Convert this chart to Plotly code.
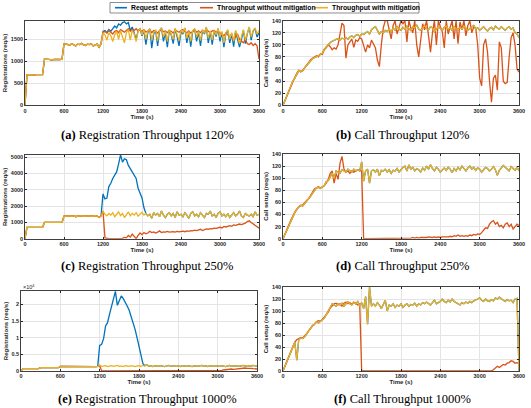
import plotly.graph_objects as go

W, H = 531, 408
T = list(range(0, 3601, 30))  # sample times (s)

BLUE, ORANGE, YELLOW = "#0072BD", "#D95319", "#EDB120"

# ---------------- (a) Registration Throughput 120% ----------------
reg120_pre = [  # 0..1170 s, all three series coincide
    0, 690, 695, 690, 700, 690, 695, 690, 700, 695,
    1050, 1040, 1045, 1040, 1030, 1045, 1040, 1035, 1040, 1050,
    1400, 1390, 1380, 1370, 1400, 1380, 1350, 1390, 1380, 1410,
    1370, 1360, 1390, 1380, 1400, 1350, 1370, 1390, 1320, 1400]
reg120_req_post = [  # 1200..3600 s
    1680, 1700, 1650, 1720, 1680, 1750, 1800, 1760, 1850, 1820,
    1880, 1900, 1850, 1880, 1700, 1780, 1650, 1500, 1700, 1740,
    1580, 1700, 1380, 1650, 1740, 1300, 1620, 1700, 1350, 1680,
    1760, 1450, 1650, 1320, 1700, 1600, 1400, 1740, 1560, 1350,
    1680, 1620, 1750, 1420, 1660, 1330, 1680, 1730, 1450, 1660,
    1350, 1700, 1620, 1770, 1420, 1680, 1380, 1690, 1560, 1740,
    1450, 1660, 1320, 1630, 1700, 1420, 1620, 1330, 1680, 1500,
    1320, 1500, 1700, 1400, 1630, 1770, 1480, 1690, 1750, 1550,
    1650]
reg120_without_post = [
    1650, 1680, 1640, 1700, 1660, 1620, 1680, 1700, 1650, 1720,
    1690, 1660, 1700, 1740, 1680, 1720, 1700, 1740, 1690, 1710,
    1680, 1720, 1660, 1690, 1720, 1650, 1700, 1680, 1640, 1700,
    1720, 1670, 1690, 1650, 1700, 1680, 1640, 1710, 1690, 1660,
    1700, 1720, 1680, 1650, 1690, 1640, 1680, 1710, 1660, 1690,
    1650, 1700, 1670, 1720, 1680, 1650, 1690, 1700, 1660, 1690,
    1640, 1620, 1580, 1640, 1600, 1550, 1620, 1480, 1560, 1620,
    1500, 1450, 1420, 1500, 1400, 1380, 1420, 1360, 1400, 1350,
    1050]
reg120_with_post = [
    1650, 1600, 1480, 1650, 1580, 1450, 1600, 1680, 1500, 1700,
    1550, 1420, 1650, 1720, 1480, 1700, 1620, 1450, 1680, 1750,
    1600, 1720, 1500, 1680, 1740, 1480, 1650, 1720, 1460, 1700,
    1760, 1550, 1680, 1450, 1720, 1620, 1500, 1750, 1600, 1470,
    1700, 1650, 1760, 1520, 1680, 1450, 1700, 1740, 1550, 1680,
    1470, 1720, 1640, 1780, 1520, 1690, 1480, 1700, 1600, 1750,
    1550, 1680, 1420, 1650, 1720, 1500, 1650, 1450, 1700, 1580,
    1400, 1550, 1720, 1480, 1650, 1780, 1550, 1700, 1760, 1620,
    1700]

# ---------------- (b) Call Throughput 120% ----------------
call120_with = [
    0, 8, 16, 25, 32, 40, 45, 52, 57, 56,
    58, 62, 66, 70, 74, 77, 79, 80, 82, 84,
    86, 93, 97, 100, 104, 106, 108, 109, 110, 108,
    111, 110, 112, 109, 113, 115, 112, 116, 117, 114,
    118, 117, 120, 122, 118, 125, 128, 130, 124, 118,
    122, 120, 124, 122, 126, 121, 128, 124, 130, 126,
    124, 129, 126, 131, 127, 124, 130, 128, 133, 126,
    124, 129, 132, 127, 125, 130, 128, 122, 126, 130,
    127, 124, 129, 131, 126, 128, 124, 130, 127, 125,
    129, 126, 131, 128, 124, 127, 130, 132, 126, 128,
    124, 127, 130, 126, 123, 127, 129, 125, 131, 128,
    126, 130, 127, 124, 128, 130, 126, 128, 120, 118,
    112]
call120_without = [
    0, 8, 16, 25, 33, 40, 46, 53, 58, 55,
    57, 62, 67, 72, 75, 78, 80, 82, 80, 85,
    84, 92, 95, 100, 97, 92, 95, 93, 100, 118,
    136, 132, 78, 100, 105, 110, 96, 108, 106, 112,
    110, 98, 88, 100, 95, 108, 102, 95, 75, 64,
    100, 128, 140, 140, 125, 110, 132, 140, 118, 130,
    140, 135, 140, 105, 140, 128, 120, 140, 100, 80,
    110, 135, 125, 140, 115, 88, 120, 140, 100, 140,
    130, 122, 95, 140, 118, 130, 140, 110, 140, 102,
    138, 125, 140, 115, 132, 140, 120, 130, 128, 100,
    45, 32, 100, 110, 88, 40, 5, 45, 50, 25,
    105, 95, 40, 36, 38, 80, 112, 120, 100, 60,
    55]
call120_req = call120_with

# ---------------- (c) Registration Throughput 250% ----------------
reg250_pre = [
    0, 700, 700, 690, 700, 700, 700, 690, 700, 700,
    1000, 1000, 1010, 1000, 1000, 990, 1000, 1010, 1000, 1000,
    1380, 1400, 1390, 1400, 1380, 1400, 1350, 1400, 1390, 1410,
    1380, 1400, 1390, 1400, 1380, 1400, 1410, 1390, 1300, 1400]
reg250_with_post = [
    1700, 1500, 1400, 1550, 1450, 1600, 1350, 1500, 1650, 1420,
    1550, 1300, 1500, 1650, 1400, 1550, 1450, 1600, 1380, 1500,
    1620, 1450, 1550, 1400, 1500, 1250, 1600, 1450, 1550, 1350,
    1700, 1450, 1300, 1500, 1600, 1400, 1550, 1300, 1650, 1450,
    1500, 1350, 1600, 1450, 1250, 1550, 1650, 1400, 1500, 1350,
    1600, 1450, 1300, 1550, 1500, 1700, 1400, 1500, 1300, 1550,
    1650, 1400, 1500, 1350, 1550, 1300, 1450, 1600, 1400, 1500,
    1700, 1400, 1300, 1550, 1450, 1400, 1500, 1350, 1650, 1450,
    1500]
reg250_without_post = [
    1700, 50, 0, 0, 0, 0, 0, 0, 0, 0,
    20, 80, 50, 200, 100, 280, 150, 0, 200, 350,
    250, 380, 300, 350, 450, 380, 420, 350, 400, 480,
    380, 420, 400, 450, 400, 420, 430, 400, 450, 420,
    440, 460, 430, 480, 450, 500, 480, 520, 500, 540,
    580, 500, 560, 600, 580, 620, 600, 650, 640, 680,
    700, 660, 750, 720, 780, 800, 760, 850, 820, 880,
    900, 870, 920, 950, 1050, 1100, 1000, 900, 800, 700,
    650]
reg250_req_peak = [  # 1200..1860 s, then request attempts follow throughput
    2750, 2450, 2500, 3200, 3400, 3700, 3900, 4100, 4600, 5150,
    4700, 4900, 4850, 4500, 4300, 4100, 3900, 3700, 3100, 2800,
    2500, 1900, 1550]

# ---------------- (d) Call Throughput 250% ----------------
call250_with = [
    0, 7, 15, 23, 30, 37, 43, 48, 53, 55,
    54, 58, 62, 65, 70, 75, 80, 84, 85, 83,
    86, 88, 94, 96, 102, 108, 100, 112, 110, 108,
    114, 112, 110, 115, 113, 110, 115, 112, 114, 112,
    127, 95, 112, 115, 92, 112, 114, 110, 115, 104,
    113, 112, 115, 110, 114, 108, 113, 112, 116, 110,
    114, 118, 120, 112, 122, 115, 118, 112, 116, 114,
    110, 117, 113, 120, 115, 122, 116, 112, 118, 115,
    110, 114, 117, 113, 118, 115, 109, 116, 112, 118,
    114, 120, 116, 112, 117, 120, 115, 118, 113, 117,
    115, 110, 114, 118, 116, 112, 115, 119, 114, 105,
    113, 117, 121, 118, 115, 112, 119, 116, 113, 118,
    112]
call250_without = [
    0, 7, 15, 23, 31, 38, 44, 49, 52, 55,
    56, 60, 63, 66, 72, 76, 82, 84, 86, 84,
    85, 88, 92, 98, 108, 112, 92, 108, 98, 125,
    136, 115, 110, 112, 108, 112, 110, 112, 114, 113,
    112, 0, 0, 0, 0, 0, 0, 0, 0, 0,
    0, 0, 0, 0, 0, 0, 0, 0, 0, 0,
    0, 1, 0, 1, 0, 1, 2, 1, 2, 1,
    2, 2, 1, 2, 3, 2, 2, 3, 2, 3,
    2, 3, 3, 2, 3, 4, 3, 5, 4, 6,
    4, 5, 4, 5, 4, 6, 5, 7, 6, 8,
    7, 10, 14, 18, 17, 24, 28, 30, 24, 27,
    20, 22, 18, 24, 26, 20, 24, 16, 20, 24,
    22]
call250_req = call250_with

# ---------------- (e) Registration Throughput 1000% (x 10^4) ----------------
reg1000_pre = [
    0, 0.07, 0.07, 0.068, 0.07, 0.072, 0.07, 0.069, 0.07, 0.071,
    0.10, 0.10, 0.101, 0.10, 0.099, 0.10, 0.10, 0.101, 0.10, 0.10,
    0.14, 0.139, 0.14, 0.141, 0.138, 0.14, 0.135, 0.14, 0.139, 0.141,
    0.138, 0.14, 0.139, 0.14, 0.138, 0.14, 0.141, 0.139, 0.13, 0.14]
reg1000_with_post = [
    0.17, 0.14, 0.15, 0.16, 0.13, 0.15, 0.16, 0.14, 0.15, 0.17,
    0.14, 0.15, 0.13, 0.16, 0.15, 0.14, 0.16, 0.15, 0.13, 0.15,
    0.16, 0.14, 0.17, 0.15, 0.19, 0.14, 0.15, 0.13, 0.16, 0.15,
    0.14, 0.16, 0.15, 0.13, 0.15, 0.17, 0.14, 0.15, 0.16, 0.14,
    0.15, 0.13, 0.16, 0.15, 0.14, 0.16, 0.15, 0.13, 0.15, 0.16,
    0.14, 0.15, 0.17, 0.14, 0.15, 0.13, 0.16, 0.15, 0.14, 0.16,
    0.15, 0.14, 0.16, 0.15, 0.13, 0.15, 0.17, 0.14, 0.16, 0.15,
    0.16, 0.14, 0.15, 0.17, 0.15, 0.14, 0.16, 0.15, 0.17, 0.16,
    0.15]
reg1000_without_post = [
    0.17, 0, 0, 0, 0, 0, 0, 0, 0, 0,
    0, 0, 0, 0, 0, 0, 0, 0, 0, 0,
    0, 0, 0, 0, 0, 0, 0, 0, 0, 0,
    0, 0, 0, 0, 0, 0, 0, 0, 0, 0,
    0, 0, 0, 0, 0, 0, 0, 0, 0, 0,
    0, 0, 0, 0, 0, 0, 0, 0, 0, 0,
    0.01, 0.02, 0.02, 0.03, 0.04, 0.04, 0.05, 0.06, 0.05, 0.06,
    0.07, 0.06, 0.08, 0.08, 0.09, 0.08, 0.09, 0.08, 0.07, 0.06,
    0.06]
reg1000_req_peak = [  # 1200..1890 s
    0.77, 0.80, 0.97, 1.35, 1.45, 1.70, 1.92, 2.12, 2.39, 1.97,
    2.12, 2.25, 2.17, 2.08, 1.95, 1.82, 1.65, 1.45, 1.25, 1.00,
    0.75, 0.50, 0.22, 0.16]

# ---------------- (f) Call Throughput 1000% ----------------
call1000_with = [
    0, 8, 16, 24, 32, 40, 48, 18, 52, 55,
    54, 57, 62, 66, 70, 76, 78, 82, 80, 83,
    85, 88, 94, 100, 106, 112, 110, 108, 112, 110,
    113, 108, 112, 115, 112, 110, 114, 112, 116, 108,
    114, 104, 124, 78, 140, 108, 112, 108, 114, 110,
    104, 112, 118, 100, 110, 108, 112, 106, 110, 108,
    112, 106, 110, 112, 108, 111, 110, 113, 108, 112,
    110, 114, 112, 115, 113, 110, 114, 118, 112, 114,
    116, 120, 116, 114, 118, 115, 120, 116, 114, 112,
    110, 114, 112, 115, 113, 116, 114, 117, 118, 120,
    122, 118, 116, 120, 117, 116, 119, 117, 122, 120,
    123, 120, 118, 116, 119, 117, 118, 114, 120, 121,
    0]
call1000_without = [
    0, 8, 16, 25, 33, 41, 48, 52, 54, 56,
    55, 58, 62, 67, 72, 75, 78, 82, 84, 83,
    86, 90, 95, 98, 105, 108, 112, 113, 110, 112,
    108, 113, 115, 112, 114, 111, 115, 113, 110, 112,
    0, 0, 0, 0, 0, 0, 0, 0, 0, 0,
    0, 0, 0, 0, 0, 0, 0, 0, 0, 0,
    0, 0, 0, 0, 0, 0, 0, 0, 0, 0,
    0, 0, 0, 0, 0, 0, 0, 0, 0, 0,
    0, 0, 0, 0, 0, 0, 0, 0, 0, 0,
    0, 0, 0, 0, 0, 0, 0, 0, 0, 0,
    0, 0, 0, 0, 0, 0, 0, 2, 5, 8,
    6, 9, 11, 10, 13, 14, 17, 16, 13, 14,
    12]
call1000_req = call1000_with

# ---------------- assemble series ----------------
reg120_req = reg120_pre + reg120_req_post
reg120_without = reg120_pre + reg120_without_post
reg120_with = reg120_pre + reg120_with_post
reg250_with = reg250_pre + reg250_with_post
reg250_without = reg250_pre + reg250_without_post
reg250_req = reg250_pre + reg250_req_peak + reg250_with_post[len(reg250_req_peak):]
reg1000_with = reg1000_pre + reg1000_with_post
reg1000_without = reg1000_pre + reg1000_without_post
reg1000_req = reg1000_pre + reg1000_req_peak + reg1000_with_post[len(reg1000_req_peak):]

X_TICKS = [0, 600, 1200, 1800, 2400, 3000, 3600]
CALL_TICKS = [0, 20, 40, 60, 80, 100, 120, 140]

panels = [
    # key, (left, right, top, bottom) px, y range, y ticks, y title, (req, without, with), caption
    ("a", (25, 259, 20.7, 105.3), [0, 1922], [0, 500, 1000, 1500], "Registrations (req/s)",
     (reg120_req, reg120_without, reg120_with), "Registration Throughput 120%"),
    ("b", (283, 519, 20.7, 105.3), [0, 140], CALL_TICKS, "Call setup (req/s)",
     (call120_req, call120_without, call120_with), "Call Throughput 120%"),
    ("c", (25, 259, 155, 238.7), [0, 5140], [0, 1000, 2000, 3000, 4000, 5000], "Registrations (req/s)",
     (reg250_req, reg250_without, reg250_with), "Registration Throughput 250%"),
    ("d", (283, 519, 154, 238.7), [0, 140], CALL_TICKS, "Call setup (req/s)",
     (call250_req, call250_without, call250_with), "Call Throughput 250%"),
    ("e", (21, 257, 291, 371), [0, 2.4], [0, 0.5, 1, 1.5, 2], "Registrations (req/s)",
     (reg1000_req, reg1000_without, reg1000_with), "Registration Throughput 1000%"),
    ("f", (283, 519, 287, 371), [0, 140], CALL_TICKS, "Call setup (req/s)",
     (call1000_req, call1000_without, call1000_with), "Call Throughput 1000%"),
]

names = ["Request attempts", "Throughput without mitigation", "Throughput with mitigation"]
colors = [BLUE, ORANGE, YELLOW]

fig = go.Figure()
TXT = "#262626"
tickfont = dict(family="Liberation Sans", size=5.5, color=TXT, weight="bold")
titlefont = dict(family="Liberation Sans", size=6, color=TXT, weight="bold")
axis_common = dict(ticks="inside", ticklen=2, tickwidth=0.5, tickcolor=TXT,
                   showgrid=True, gridcolor="#e4e4e4", gridwidth=0.6,
                   showline=True, linecolor="#404040", linewidth=0.6, mirror="ticks",
                   zeroline=False, automargin=False, tickfont=tickfont)
layout = {}
annotations = []
for i, (key, (l, r, t, b), yr, yt, ytitle, series, caption) in enumerate(panels):
    n = "" if i == 0 else str(i + 1)
    xa, ya = "x" + n, "y" + n
    layout["xaxis" + n] = dict(axis_common, domain=[l / W, r / W], anchor=ya, range=[0, 3600],
                               tickvals=X_TICKS,
                               title=dict(text="Time (s)", standoff=1, font=titlefont))
    layout["yaxis" + n] = dict(axis_common, domain=[1 - b / H, 1 - t / H], anchor=xa, range=yr,
                               tickvals=yt,
                               title=dict(text=ytitle, standoff=2, font=titlefont))
    for s, nm, c in zip(series, names, colors):
        fig.add_trace(go.Scatter(x=T, y=s, mode="lines", name=nm, line=dict(color=c, width=1.3),
                                 xaxis=xa, yaxis=ya, showlegend=False))
    cx = (147 if key in "ace" else 402) / W
    cy = {"a": 135, "b": 135, "c": 266, "d": 266, "e": 399, "f": 399}[key]
    annotations.append(dict(text=f"<b>({key})</b> {caption}", xref="paper", yref="paper",
                            x=cx, y=1 - cy / H, xanchor="center", yanchor="middle", showarrow=False,
                            font=dict(family="Liberation Serif", size=12.5, color="black")))

# x10^4 exponent label for panel (e)
annotations.append(dict(text="×10<sup>4</sup>", xref="paper", yref="paper", x=21 / W, y=1 - 287 / H,
                        xanchor="left", yanchor="middle", showarrow=False,
                        font=dict(family="Liberation Sans", size=5.5, color=TXT)))

# legend (drawn as a boxed row at the top)
shapes = [dict(type="rect", xref="paper", yref="paper", x0=110 / W, x1=419 / W,
               y0=1 - 13 / H, y1=1 - 2.5 / H, line=dict(color="#404040", width=0.6),
               fillcolor="white", layer="above")]
leg_items = [(115, 127, 129), (200, 213, 215), (315, 328, 330)]
for (x0, x1, xt), nm, c in zip(leg_items, names, colors):
    shapes.append(dict(type="line", xref="paper", yref="paper", x0=x0 / W, x1=x1 / W,
                       y0=1 - 7.7 / H, y1=1 - 7.7 / H, line=dict(color=c, width=1.6), layer="above"))
    annotations.append(dict(text=nm, xref="paper", yref="paper", x=xt / W, y=1 - 7.7 / H,
                            xanchor="left", yanchor="middle", showarrow=False,
                            font=dict(family="Liberation Sans", size=6.8, color="black", weight="bold")))

fig.update_layout(**layout)
fig.update_layout(width=W, height=H, margin=dict(l=0, r=0, t=0, b=0),
                  paper_bgcolor="white", plot_bgcolor="white",
                  annotations=annotations, shapes=shapes, showlegend=False)

fig.write_html("out.html")
